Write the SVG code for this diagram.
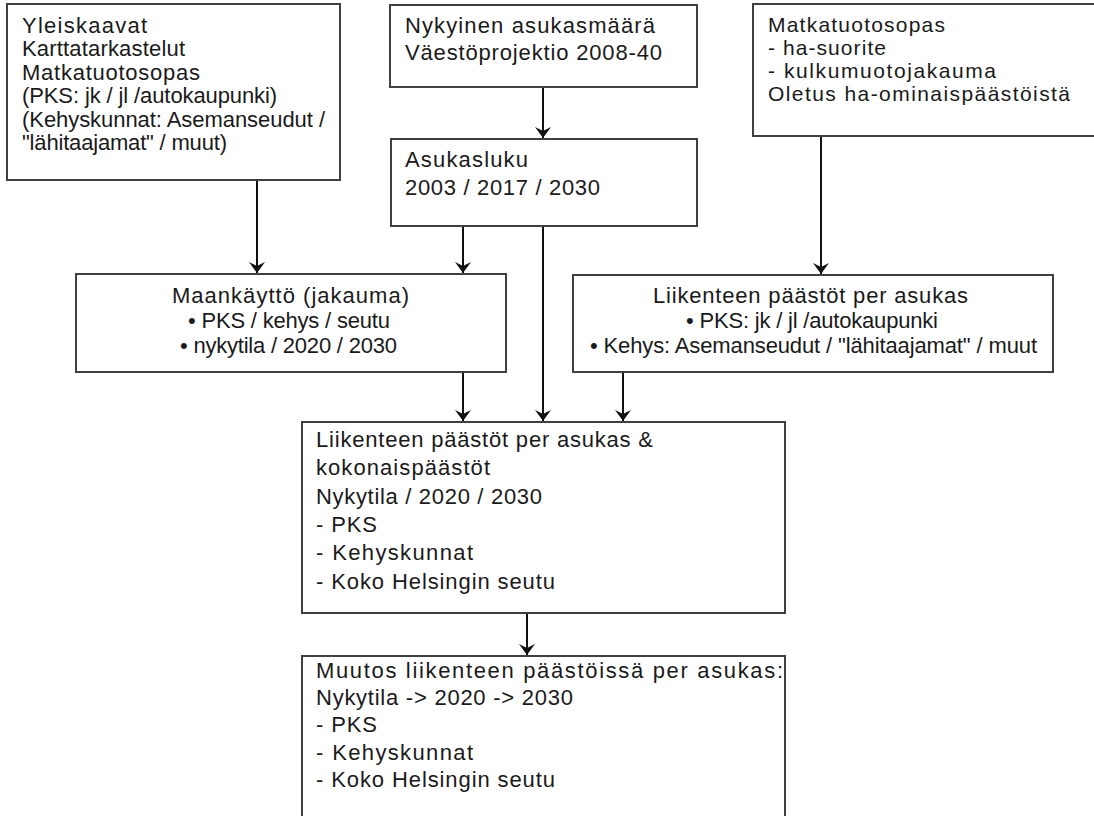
<svg xmlns="http://www.w3.org/2000/svg" width="1094" height="816" viewBox="0 0 1094 816">
<style>
.box{fill:#fff;stroke:#404040;stroke-width:2}
.t{font-family:"Liberation Sans",Arial,sans-serif;font-size:22px;fill:#1a1a1a}
.s{font-size:21px}
.c{fill:none;stroke:#111;stroke-width:2}
</style>
<defs>
<marker id="ah" markerUnits="userSpaceOnUse" viewBox="0 0 11 16" refX="11" refY="8" markerWidth="11" markerHeight="16" orient="auto">
<path d="M11,8 L0,0 L4,8 L0,16 Z" fill="#111"/>
</marker>
</defs>
<rect width="1094" height="816" fill="#fff"/>
<g id="connectors">
<path class="c" d="M257,180 V273" marker-end="url(#ah)"/>
<path class="c" d="M543,87 V138" marker-end="url(#ah)"/>
<path class="c" d="M463,226 V273" marker-end="url(#ah)"/>
<path class="c" d="M543,226 V421" marker-end="url(#ah)"/>
<path class="c" d="M821,136 V274" marker-end="url(#ah)"/>
<path class="c" d="M463,372 V421" marker-end="url(#ah)"/>
<path class="c" d="M623,372 V421" marker-end="url(#ah)"/>
<path class="c" d="M527,613 V655" marker-end="url(#ah)"/>
</g>
<g id="n1">
<rect class="box" x="7" y="4" width="333" height="176"/>
<text class="t" x="22" y="33" textLength="125" lengthAdjust="spacing">Yleiskaavat</text>
<text class="t" x="22" y="56.4" textLength="163" lengthAdjust="spacing">Karttatarkastelut</text>
<text class="t" x="22" y="79.8" textLength="178" lengthAdjust="spacing">Matkatuotosopas</text>
<text class="t" x="22" y="103.2" textLength="255" lengthAdjust="spacing">(PKS: jk / jl /autokaupunki)</text>
<text class="t" x="22" y="126.6" textLength="303" lengthAdjust="spacing">(Kehyskunnat: Asemanseudut /</text>
<text class="t" x="22" y="150" textLength="205" lengthAdjust="spacing">"lähitaajamat" / muut)</text>
</g>
<g id="n2">
<rect class="box" x="390" y="5" width="307" height="82"/>
<text class="t" x="405" y="33" textLength="250" lengthAdjust="spacing">Nykyinen asukasmäärä</text>
<text class="t" x="405" y="60" textLength="257" lengthAdjust="spacing">Väestöprojektio 2008-40</text>
</g>
<g id="n3">
<rect class="box" x="753" y="4" width="345" height="132"/>
<text class="t s" x="768" y="32" textLength="177" lengthAdjust="spacing">Matkatuotosopas</text>
<text class="t s" x="768" y="55" textLength="118" lengthAdjust="spacing">- ha-suorite</text>
<text class="t s" x="768" y="78" textLength="228" lengthAdjust="spacing">- kulkumuotojakauma</text>
<text class="t s" x="768" y="100.5" textLength="302" lengthAdjust="spacing">Oletus ha-ominaispäästöistä</text>
</g>
<g id="n4">
<rect class="box" x="391" y="139" width="306" height="87"/>
<text class="t" x="405" y="167" textLength="123" lengthAdjust="spacing">Asukasluku</text>
<text class="t" x="405" y="195" textLength="195" lengthAdjust="spacing">2003 / 2017 / 2030</text>
</g>
<g id="n5">
<rect class="box" x="76" y="274" width="430" height="98"/>
<text class="t" x="172" y="303" textLength="237" lengthAdjust="spacing">Maankäyttö (jakauma)</text>
<text class="t" x="188" y="328" textLength="202" lengthAdjust="spacing">• PKS / kehys / seutu</text>
<text class="t" x="180" y="353" textLength="217" lengthAdjust="spacing">• nykytila / 2020 / 2030</text>
</g>
<g id="n6">
<rect class="box" x="573" y="275" width="480" height="97"/>
<text class="t" x="653" y="303" textLength="315" lengthAdjust="spacing">Liikenteen päästöt per asukas</text>
<text class="t" x="686" y="328" textLength="252" lengthAdjust="spacing">• PKS: jk / jl /autokaupunki</text>
<text class="t" x="590" y="353" textLength="447" lengthAdjust="spacing">• Kehys: Asemanseudut / "lähitaajamat" / muut</text>
</g>
<g id="n7">
<rect class="box" x="302" y="422" width="483" height="191"/>
<text class="t" x="316" y="447" textLength="337" lengthAdjust="spacing">Liikenteen päästöt per asukas &amp;</text>
<text class="t" x="316" y="475.3" textLength="174" lengthAdjust="spacing">kokonaispäästöt</text>
<text class="t" x="316" y="503.6" textLength="226" lengthAdjust="spacing">Nykytila / 2020 / 2030</text>
<text class="t" x="316" y="531.9" textLength="61" lengthAdjust="spacing">- PKS</text>
<text class="t" x="316" y="560.2" textLength="157" lengthAdjust="spacing">- Kehyskunnat</text>
<text class="t" x="316" y="588.5" textLength="239" lengthAdjust="spacing">- Koko Helsingin seutu</text>
</g>
<g id="n8">
<rect class="box" x="302" y="656" width="483" height="170"/>
<text class="t" x="316" y="678" textLength="467" lengthAdjust="spacing">Muutos liikenteen päästöissä per asukas:</text>
<text class="t" x="316" y="705" textLength="257" lengthAdjust="spacing">Nykytila -&gt; 2020 -&gt; 2030</text>
<text class="t" x="316" y="732" textLength="61" lengthAdjust="spacing">- PKS</text>
<text class="t" x="316" y="759.5" textLength="157" lengthAdjust="spacing">- Kehyskunnat</text>
<text class="t" x="316" y="786.5" textLength="239" lengthAdjust="spacing">- Koko Helsingin seutu</text>
</g>
</svg>
